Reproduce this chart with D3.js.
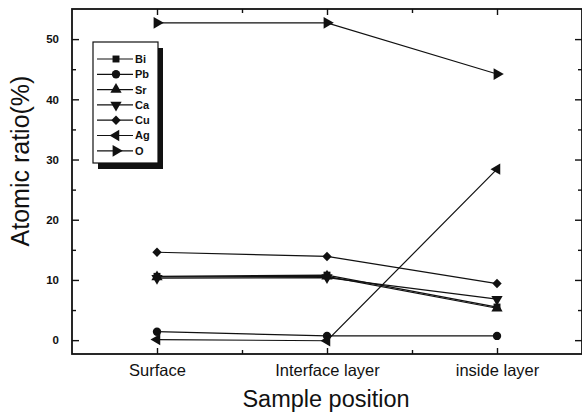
<!DOCTYPE html>
<html>
<head>
<meta charset="utf-8">
<script src="https://cdn.jsdelivr.net/npm/d3@7"></script>
<style>
  body { margin: 0; background: #fff; }
  svg { display: block; }
  text { font-family: "Liberation Sans", Arial, sans-serif; fill: #111; }
</style>
</head>
<body>
<div id="chart"></div>
<script>
// data
const categories = ['Surface', 'Interface layer', 'inside layer']
const elements = ['Bi', 'Pb', 'Sr', 'Ca', 'Cu', 'Ag', 'O']
const biValues = [10.6, 10.8, 5.5]
const pbValues = [1.4, 0.7, 0.7]
const srValues = [10.5, 10.6, 5.3]
const caValues = [10.3, 10.4, 6.8]
const cuValues = [14.6, 13.9, 9.4]
const agValues = [0.1, -0.1, 28.4]
const oValues = [52.7, 52.7, 44.2]
const yTicks = [0, 10, 20, 30, 40, 50]
const yMinorTicks = [5, 15, 25, 35, 45]

const width = 582
const height = 414
const padding = { top: 9, left: 72, bottom: 60, right: 0 }

// marker shape per element: symbol type + rotation
const markers = {
  Bi: { type: d3.symbolSquare, size: 48, rotate: 0 },
  Pb: { type: d3.symbolCircle, size: 55, rotate: 0 },
  Sr: { type: d3.symbolTriangle, size: 55, rotate: 0 },
  Ca: { type: d3.symbolTriangle, size: 55, rotate: 180 },
  Cu: { type: d3.symbolSquare, size: 44, rotate: 45 },
  Ag: { type: d3.symbolTriangle, size: 55, rotate: -90 },
  O: { type: d3.symbolTriangle, size: 60, rotate: 90 }
}

const seriesValues = [biValues, pbValues, srValues, caValues, cuValues, agValues, oValues]
const series = elements.map((name, i) => ({ name, values: seriesValues[i] }))

const svg = d3.select('#chart')
  .append('svg')
  .attr('width', width)
  .attr('height', height)

const xScale = d3.scaleLinear()
  .domain([-0.5, 2.5])
  .range([padding.left, width - padding.right])

const yScale = d3.scaleLinear()
  .domain([-2.3, 55])
  .range([height - padding.bottom, padding.top])

const x0 = padding.left, x1 = width - padding.right
const y0 = height - padding.bottom, y1 = padding.top

function styleAxis(g) {
  g.select('.domain').remove()
  g.selectAll('line').attr('stroke', '#111').attr('stroke-width', 1.4)
}

// major + minor ticks on all four sides, pointing inward
svg.append('g')
  .attr('transform', 'translate(' + x0 + ',0)')
  .call(d3.axisLeft(yScale).tickValues(yTicks).tickSizeInner(-7).tickSizeOuter(0).tickPadding(13))
  .call(styleAxis)
  .call(g => g.selectAll('text').attr('font-size', 11.5).attr('font-weight', 'bold'))
svg.append('g')
  .attr('transform', 'translate(' + x0 + ',0)')
  .call(d3.axisLeft(yScale).tickValues(yMinorTicks).tickSizeInner(-4).tickSizeOuter(0).tickFormat(''))
  .call(styleAxis)
svg.append('g')
  .attr('transform', 'translate(' + x1 + ',0)')
  .call(d3.axisRight(yScale).tickValues(yTicks).tickSizeInner(-7).tickSizeOuter(0).tickFormat(''))
  .call(styleAxis)
svg.append('g')
  .attr('transform', 'translate(' + x1 + ',0)')
  .call(d3.axisRight(yScale).tickValues(yMinorTicks).tickSizeInner(-4).tickSizeOuter(0).tickFormat(''))
  .call(styleAxis)

svg.append('g')
  .attr('transform', 'translate(0,' + y0 + ')')
  .call(d3.axisBottom(xScale).tickValues([0, 1, 2]).tickSizeInner(-6).tickSizeOuter(0).tickPadding(10)
    .tickFormat(i => categories[i]))
  .call(styleAxis)
  .call(g => g.selectAll('text').attr('font-size', 16.5))
svg.append('g')
  .attr('transform', 'translate(0,' + y0 + ')')
  .call(d3.axisBottom(xScale).tickValues([0.5, 1.5]).tickSizeInner(-4).tickSizeOuter(0).tickFormat(''))
  .call(styleAxis)
svg.append('g')
  .attr('transform', 'translate(0,' + y1 + ')')
  .call(d3.axisTop(xScale).tickValues([0, 1, 2]).tickSizeInner(-6).tickSizeOuter(0).tickFormat(''))
  .call(styleAxis)
svg.append('g')
  .attr('transform', 'translate(0,' + y1 + ')')
  .call(d3.axisTop(xScale).tickValues([0.5, 1.5]).tickSizeInner(-4).tickSizeOuter(0).tickFormat(''))
  .call(styleAxis)

// frame
svg.append('rect')
  .attr('x', x0).attr('y', y1)
  .attr('width', x1 - x0).attr('height', y0 - y1)
  .attr('fill', 'none').attr('stroke', '#111').attr('stroke-width', 1.8)

// axis titles
svg.append('text')
  .attr('x', 326).attr('y', 407)
  .attr('text-anchor', 'middle')
  .attr('font-size', 23.5)
  .text('Sample position')
svg.append('text')
  .attr('transform', 'translate(29,' + 161 + ') rotate(-90)')
  .attr('text-anchor', 'middle')
  .attr('font-size', 25)
  .text('Atomic ratio(%)')

const line = d3.line()
  .x((d, i) => xScale(i))
  .y(d => yScale(d))

function symbolPath(name) {
  const m = markers[name]
  return d3.symbol().type(m.type).size(m.size)()
}

svg.append('g')
  .selectAll('path')
  .data(series)
  .enter()
  .append('path')
  .attr('d', d => line(d.values))
  .attr('fill', 'none')
  .attr('stroke', '#111')
  .attr('stroke-width', 1.2)

series.forEach(s => {
  svg.append('g')
    .selectAll('path')
    .data(s.values)
    .enter()
    .append('path')
    .attr('d', symbolPath(s.name))
    .attr('transform', (d, i) => 'translate(' + xScale(i) + ',' + yScale(d) + ') rotate(' + markers[s.name].rotate + ')')
    .attr('fill', '#111')
})

// legend with drop shadow
const legend = { x: 93, y: 42, w: 65, h: 121, row: 15.3 }
svg.append('rect')
  .attr('x', legend.x + 5).attr('y', legend.y + 6)
  .attr('width', legend.w).attr('height', legend.h)
  .attr('fill', '#111')
svg.append('rect')
  .attr('x', legend.x).attr('y', legend.y)
  .attr('width', legend.w).attr('height', legend.h)
  .attr('fill', '#fff').attr('stroke', '#111').attr('stroke-width', 1.2)

const items = svg.append('g')
  .selectAll('g')
  .data(elements)
  .enter()
  .append('g')
  .attr('transform', (d, i) => 'translate(' + legend.x + ',' + (legend.y + 17 + i * legend.row) + ')')
items.append('line')
  .attr('x1', 4).attr('x2', 40)
  .attr('stroke', '#111').attr('stroke-width', 1.2)
items.append('path')
  .attr('d', d => symbolPath(d))
  .attr('transform', d => 'translate(23,0) rotate(' + markers[d].rotate + ')')
  .attr('fill', '#111')
items.append('text')
  .attr('x', 42).attr('dy', '0.36em')
  .attr('font-size', 11)
  .attr('font-weight', 'bold')
  .text(d => d)
</script>
</body>
</html>
